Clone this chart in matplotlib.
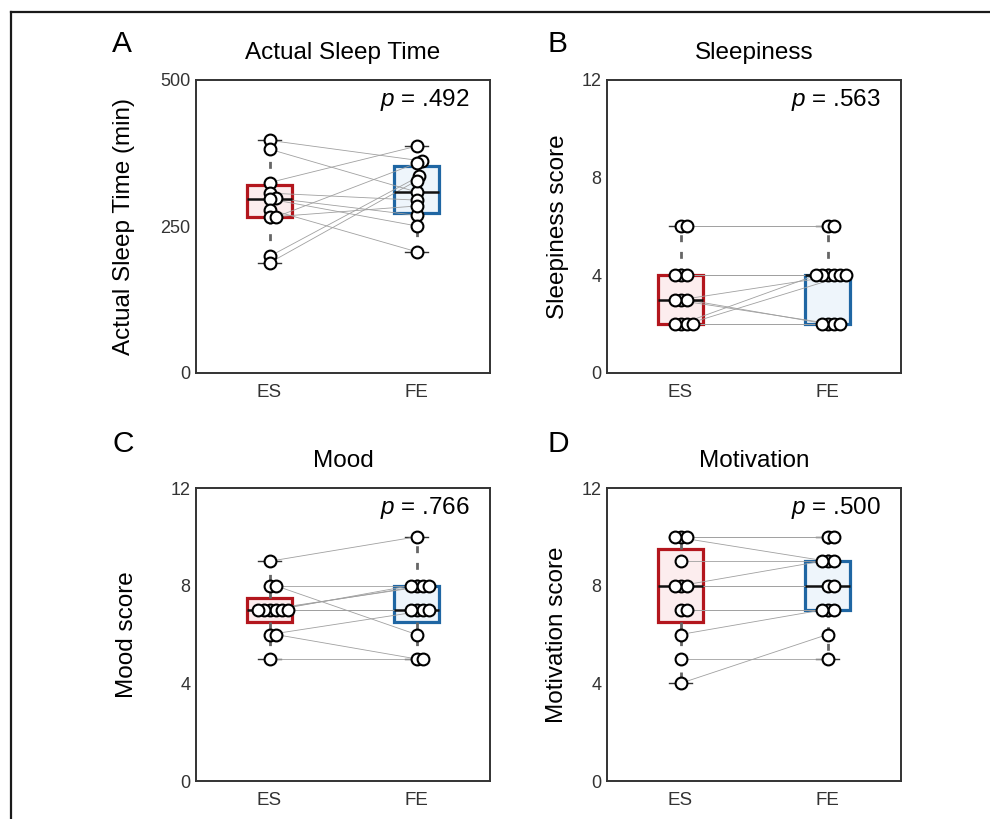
import numpy as np
import matplotlib

matplotlib.use("Agg")
import matplotlib.pyplot as plt
from matplotlib.lines import Line2D

plt.rcParams["font.family"] = ["Liberation Sans", "DejaVu Sans"]
plt.rcParams["mathtext.fontset"] = "custom"
plt.rcParams["mathtext.rm"] = "Liberation Sans"
plt.rcParams["mathtext.it"] = "Liberation Sans:italic"

# paired values, one entry per participant (ES -> FE)
groups = ["ES", "FE"]

sleep_es = [397, 382, 325, 307, 298, 297, 279, 266, 266, 199, 188]
sleep_fe = [362, 309, 387, 295, 269, 251, 207, 285, 358, 336, 328]

sleepy_es = [6, 6, 4, 4, 4, 3, 3, 3, 2, 2, 2, 2]
sleepy_fe = [6, 6, 4, 4, 4, 4, 2, 2, 4, 4, 2, 2]

mood_es = [9, 8, 8, 7, 7, 7, 7, 7, 7, 6, 6, 5]
mood_fe = [10, 8, 6, 8, 8, 8, 7, 7, 7, 7, 5, 5]

motiv_es = [10, 10, 10, 9, 8, 8, 8, 7, 7, 6, 5, 4]
motiv_fe = [10, 10, 9, 9, 9, 8, 8, 7, 7, 7, 5, 6]

letters = ["A", "B", "C", "D"]
titles = ["Actual Sleep Time", "Sleepiness", "Mood", "Motivation"]
ylabels = ["Actual Sleep Time (min)", "Sleepiness score", "Mood score", "Motivation score"]
p_values = [".492", ".563", ".766", ".500"]
yticks = [[0, 250, 500], [0, 4, 8, 12], [0, 4, 8, 12], [0, 4, 8, 12]]

RED = "#B3161D"
BLUE = "#1F66A3"
FILLS = ["#FCEDEE", "#EEF5FB"]
EDGES = [RED, BLUE]


def box_stats(vals):
    v = np.asarray(vals, dtype=float)
    q1, med, q3 = np.percentile(v, [25, 50, 75], method="hazen")
    return dict(med=med, q1=q1, q3=q3, whislo=v.min(), whishi=v.max(), fliers=[])


def swarm(vals, center, ypx, xpx=147.0, d=5.5, step=1.0):
    # simple deterministic swarm layout in pixel space
    vals = np.asarray(vals, dtype=float)
    offs = np.zeros(len(vals))
    placed = []
    for i in np.argsort(vals, kind="stable"):
        y = vals[i] * ypx
        k = 0
        found = None
        while found is None:
            cands = [0.0] if k == 0 else [k * step, -k * step]
            for c in cands:
                if all((c - px) ** 2 + (y - py) ** 2 >= d * d for px, py in placed):
                    found = c
                    break
            k += 1
        placed.append((found, y))
        offs[i] = found / xpx
    return center + offs


fig = plt.figure(figsize=(9.9, 8.19), dpi=100)

W, H = 990, 819
ax_w, ax_h = 294 / W, 293 / H
lefts = [196 / W, 607 / W, 196 / W, 607 / W]
bottoms = [1 - 373 / H, 1 - 373 / H, 1 - 781 / H, 1 - 781 / H]
label_x = [-0.207, -0.129, -0.197, -0.133]
letter_pos = [(112, 52), (548, 52), (112, 452), (548, 452)]

data = [(sleep_es, sleep_fe), (sleepy_es, sleepy_fe), (mood_es, mood_fe), (motiv_es, motiv_fe)]

for k, (es, fe) in enumerate(data):
    ax = fig.add_axes((lefts[k], bottoms[k], ax_w, ax_h))
    ymax = yticks[k][-1]
    ax.set_xlim(0.5, 2.5)
    ax.set_ylim(0, ymax)
    ypx = 293 / ymax

    stats = [box_stats(es), box_stats(fe)]
    for j in range(2):
        ax.bxp(
            [stats[j]],
            positions=[j + 1],
            widths=0.31,
            capwidths=0.15,
            patch_artist=True,
            showfliers=False,
            boxprops=dict(facecolor=FILLS[j], edgecolor=EDGES[j], linewidth=2.3, zorder=1),
            medianprops=dict(color="#111111", linewidth=1.8, zorder=3),
            whiskerprops=dict(color="#666666", linewidth=2.0, linestyle=(0, (2.5, 3.5)), zorder=1),
            capprops=dict(color="#333333", linewidth=1.0, zorder=1),
        )

    x_es = swarm(es, 1, ypx)
    x_fe = swarm(fe, 2, ypx)
    for a, b, ya, yb in zip(x_es, x_fe, es, fe):
        ax.plot([a, b], [ya, yb], color="#a0a0a0", linewidth=0.6, zorder=2)
    for xs, ys in [(x_es, es), (x_fe, fe)]:
        ax.plot(xs, ys, "o", markersize=8.5, markerfacecolor="white",
                markeredgecolor="black", markeredgewidth=1.5, zorder=4)

    ax.set_xticks([1, 2])
    ax.set_xticklabels(groups)
    ax.set_yticks(yticks[k])
    ax.tick_params(axis="both", length=0, colors="#333333")
    ax.tick_params(axis="x", labelsize=13.5, pad=8)
    ax.tick_params(axis="y", labelsize=13, pad=4)
    for sp in ax.spines.values():
        sp.set_color("#333333")
        sp.set_linewidth(1.4)

    ax.set_title(titles[k], fontsize=17.5, pad=15)
    ax.set_ylabel(ylabels[k], fontsize=17.5)
    ax.yaxis.set_label_coords(label_x[k], 0.5)
    ax.text(0.932, 0.911, rf"$p$ = {p_values[k]}", transform=ax.transAxes,
            ha="right", va="baseline", fontsize=17.5)

    lx, ly = letter_pos[k]
    fig.text(lx / W, 1 - ly / H, letters[k], fontsize=21.5, ha="left", va="baseline")

# frame lines at top and left of the figure
fig.add_artist(Line2D([11 / W, 1.0], [1 - 12 / H, 1 - 12 / H], color="#1a1a1a", linewidth=1.6))
fig.add_artist(Line2D([11 / W, 11 / W], [0.0, 1 - 12 / H], color="#1a1a1a", linewidth=1.6))

fig.savefig("out.png", dpi=100)
